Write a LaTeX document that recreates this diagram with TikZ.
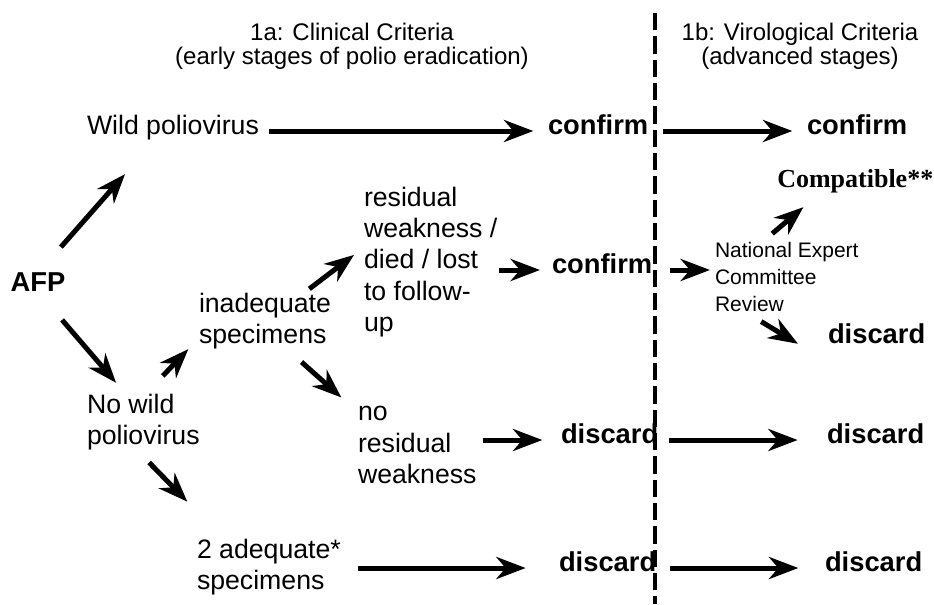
\documentclass[tikz,border=0pt]{standalone}
\usepackage{fontspec}
\setmainfont{Liberation Sans}
\newfontfamily\timesfont{Liberation Serif}
\usetikzlibrary{arrows.meta}

\tikzset{
  txt/.style={inner sep=0pt, outer sep=0pt, align=left, font=\fontsize{20}{23.5}\selectfont},
  outcome/.style={txt, font=\fontsize{20.5}{23.5}\selectfont\bfseries},
  heading/.style={inner sep=0pt, outer sep=0pt, align=center, font=\fontsize{18}{18}\selectfont},
  smalltxt/.style={txt, font=\fontsize{15.75}{20}\selectfont},
  arr/.style={line width=3.75pt, -{Stealth[length=22pt, width=16.5pt, inset=7pt]}},
  divider/.style={line width=2.4pt, dash pattern=on 13pt off 4.5pt},
}

\begin{document}
\begin{tikzpicture}[x=0.75pt, y=-0.75pt]
        \useasboundingbox (0,0) rectangle (934,604);

        % column headings and divider
        \node[heading] (hclin) at (352,46) {1a: Clinical Criteria\\(early stages of polio eradication)};
        \node[heading] (hviro) at (800,46) {1b: Virological Criteria\\(advanced stages)};
        \draw[divider] (655,13) -- (655,604);

        % case classification
        \node[outcome] (afp) at (38,282.5) {AFP};
        \node[txt, anchor=mid west] (wild) at (87,131) {Wild poliovirus};
        \node[txt, anchor=west] (nowild) at (87,422) {No wild\\poliovirus};
        \node[txt, anchor=west] (inad) at (199,321) {inadequate\\specimens};
        \node[txt, anchor=west] (res) at (364,262) {residual\\weakness /\\died / lost\\to follow-\\up};
        \node[txt, anchor=west] (nores) at (358,445) {no\\residual\\weakness};
        \node[txt, anchor=west] (adeq) at (197,567) {2 adequate*\\specimens};

        \node[outcome, anchor=mid west] (conf1) at (548,131) {confirm};
        \node[outcome, anchor=mid west] (conf2) at (552,270) {confirm};
        \node[outcome, anchor=mid west] (disc3) at (561,440) {discard};
        \node[outcome, anchor=mid west] (disc4) at (559,568) {discard};

        \node[outcome, anchor=mid west] (conf1b) at (807,131) {confirm};
        \node[smalltxt, anchor=west] (nec) at (715,277) {National Expert\\Committee\\Review};
        \node[inner sep=0pt, anchor=mid west, font=\fontsize{19.5}{23.5}\timesfont\bfseries] (compat) at (777,184) {Compatible**};
        \node[outcome, anchor=mid west] (disc2b) at (828,340) {discard};
        \node[outcome, anchor=mid west] (disc3b) at (827,440) {discard};
        \node[outcome, anchor=mid west] (disc4b) at (825,568) {discard};

        % arrows
        \draw[arr, shorten <=26pt, shorten >=34pt] (afp.north) -- ([xshift=51pt]wild.south west);
        \draw[arr, shorten <=27.7pt, shorten >=11pt] (afp.south) -- ([xshift=29pt]nowild.north west);
        \draw[arr, shorten <=18.6pt] ([xshift=44pt]nowild.north west) -- ([xshift=-8pt]inad.south west);
        \draw[arr, shorten <=13pt, shorten >=39pt] ([xshift=37.5pt]nowild.south west) -- ([xshift=20pt]adeq.north west);
        \draw[arr, shorten <=5pt, shorten >=9.4pt] ([xshift=78.75pt]inad.north west) -- ([yshift=11pt]res.west);
        \draw[arr, shorten <=14.6pt, shorten >=10pt] ([xshift=66pt]inad.south west) -- ([xshift=-5pt]nores.north west);

        \draw[arr, shorten <=7.5pt, shorten >=11pt] (wild.mid east) -- (conf1.mid west);
        \draw[arr, shorten <=1.5pt, shorten >=9pt] (res.east |- conf2.mid west) -- (conf2.mid west);
        \draw[arr, shorten <=5pt, shorten >=14pt] (nores.east |- disc3.mid west) -- (disc3.mid west);
        \draw[arr, shorten <=12.75pt, shorten >=25pt] (adeq.east |- disc4.mid west) -- (disc4.mid west);

        \draw[arr, shorten <=11pt, shorten >=11pt] (conf1.mid east) -- (conf1b.mid west);
        \draw[arr, shorten <=13.5pt, shorten >=3.75pt] (conf2.mid east) -- (conf2.mid east -| nec.west);
        \draw[arr, shorten <=10.4pt, shorten >=16pt] ([xshift=35pt]nec.north west) -- ([xshift=32pt]compat.south west);
        \draw[arr, shorten <=14.8pt] ([xshift=22pt]nec.south west) -- ([xshift=-22.5pt]disc2b.south west);
        \draw[arr, shorten <=8pt, shorten >=22pt] (disc3.mid east) -- (disc3b.mid west);
        \draw[arr, shorten <=10.5pt, shorten >=20pt] (disc4.mid east) -- (disc4b.mid west);
\end{tikzpicture}
\end{document}
